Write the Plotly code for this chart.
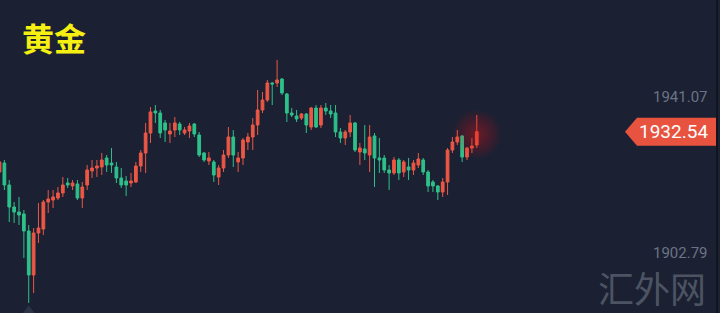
import plotly.graph_objects as go

# OHLC values (99 candles)
open_ = [1922.66, 1924.87, 1919.47, 1914.07, 1912.84, 1912.36, 1908.18, 1897.39, 1907.69, 1908.67,
         1915.30, 1915.79, 1916.28, 1917.51, 1919.96, 1919.23, 1919.72, 1916.28, 1919.47, 1922.91,
         1923.64, 1923.89, 1926.10, 1924.87, 1923.89, 1921.19, 1920.45, 1919.96, 1920.21, 1924.13,
         1927.32, 1932.23, 1937.63, 1937.14, 1934.69, 1931.99, 1932.97, 1934.44, 1932.23, 1932.72,
         1934.44, 1931.74, 1927.32, 1925.36, 1925.12, 1921.43, 1923.64, 1926.83, 1931.25, 1925.12,
         1926.10, 1930.02, 1931.25, 1934.19, 1937.88, 1940.33, 1944.50, 1944.50, 1945.48, 1941.80,
         1937.14, 1936.40, 1935.91, 1936.89, 1933.70, 1938.37, 1934.19, 1938.37, 1937.63, 1937.14,
         1932.48, 1931.01, 1932.48, 1934.69, 1927.57, 1928.31, 1926.83, 1931.50, 1926.10, 1926.10,
         1923.15, 1922.42, 1925.61, 1922.66, 1923.89, 1923.15, 1924.38, 1925.61, 1922.66, 1920.21,
         1919.23, 1917.75, 1920.21, 1928.06, 1930.02, 1931.50, 1926.34, 1928.55, 1929.29]
high = [1926.10, 1925.61, 1920.70, 1915.30, 1916.53, 1913.33, 1909.66, 1908.92, 1915.05, 1915.79,
        1918.24, 1918.24, 1918.98, 1921.43, 1921.19, 1920.70, 1920.70, 1920.21, 1924.38, 1925.61,
        1925.61, 1927.32, 1926.83, 1928.55, 1925.12, 1923.64, 1921.68, 1922.42, 1925.12, 1928.06,
        1934.69, 1938.61, 1939.10, 1937.88, 1935.42, 1934.69, 1936.16, 1934.93, 1933.70, 1934.69,
        1934.69, 1932.48, 1927.57, 1927.57, 1925.61, 1924.38, 1928.06, 1933.70, 1932.97, 1927.57,
        1931.01, 1932.23, 1935.91, 1942.78, 1942.29, 1945.24, 1944.75, 1950.15, 1945.73, 1942.05,
        1938.37, 1937.88, 1937.14, 1937.14, 1938.61, 1939.10, 1939.10, 1939.59, 1939.10, 1939.10,
        1933.46, 1932.97, 1936.65, 1934.93, 1929.78, 1934.19, 1934.19, 1932.23, 1931.01, 1926.83,
        1924.38, 1926.34, 1926.10, 1925.61, 1926.10, 1925.61, 1927.32, 1926.10, 1923.15, 1920.70,
        1919.47, 1921.19, 1928.55, 1931.25, 1932.97, 1931.74, 1928.80, 1931.01, 1936.65]
low = [1921.68, 1918.24, 1910.39, 1910.15, 1909.66, 1901.56, 1890.52, 1892.97, 1905.24, 1907.20,
       1912.60, 1913.83, 1915.79, 1916.53, 1918.74, 1918.24, 1915.79, 1913.83, 1918.24, 1921.19,
       1921.43, 1921.92, 1922.66, 1922.42, 1919.96, 1918.74, 1916.77, 1918.98, 1919.96, 1922.66,
       1922.42, 1929.78, 1934.69, 1931.01, 1930.02, 1929.78, 1931.25, 1931.74, 1931.74, 1931.01,
       1931.25, 1926.34, 1925.12, 1924.38, 1920.21, 1919.47, 1922.66, 1926.10, 1923.89, 1922.66,
       1924.38, 1928.06, 1928.06, 1931.74, 1937.14, 1939.84, 1939.10, 1943.52, 1941.56, 1934.93,
       1936.16, 1934.93, 1935.42, 1932.23, 1932.97, 1933.46, 1933.46, 1936.65, 1935.91, 1931.25,
       1929.78, 1929.29, 1931.25, 1927.57, 1924.38, 1925.61, 1922.66, 1918.98, 1922.42, 1922.42,
       1918.24, 1921.92, 1920.70, 1921.43, 1920.70, 1921.92, 1923.64, 1921.92, 1917.75, 1917.75,
       1915.79, 1916.53, 1917.02, 1927.32, 1929.29, 1925.12, 1925.61, 1927.32, 1928.55]
close = [1925.12, 1919.47, 1914.07, 1912.84, 1912.11, 1908.18, 1897.39, 1907.69, 1908.92, 1915.30,
         1916.04, 1916.53, 1917.51, 1919.47, 1919.47, 1919.96, 1916.28, 1918.98, 1923.15, 1923.64,
         1924.13, 1925.61, 1924.38, 1924.38, 1921.19, 1919.47, 1919.47, 1920.45, 1924.13, 1927.32,
         1932.23, 1937.39, 1937.14, 1932.23, 1932.97, 1932.72, 1934.69, 1932.97, 1932.97, 1933.95,
         1931.99, 1926.83, 1925.61, 1926.10, 1921.92, 1923.64, 1926.83, 1931.25, 1926.83, 1926.10,
         1930.51, 1931.25, 1934.19, 1937.88, 1940.33, 1944.50, 1944.26, 1945.24, 1942.05, 1937.14,
         1936.65, 1935.67, 1936.89, 1934.19, 1938.37, 1933.70, 1938.37, 1937.63, 1936.89, 1932.48,
         1931.01, 1932.48, 1934.69, 1928.06, 1928.55, 1927.32, 1931.25, 1926.10, 1925.61, 1923.15,
         1922.42, 1925.61, 1922.42, 1925.12, 1923.15, 1924.87, 1925.85, 1922.66, 1919.23, 1919.23,
         1917.75, 1920.21, 1928.06, 1930.02, 1931.25, 1926.34, 1928.55, 1929.04, 1932.54]
x_idx = list(range(len(close)))

axis_labels = [1941.07, 1902.79]
last_price = 1932.54
title_text = "黄金"
watermark = "汇外网"

BG = "#1b2132"
UP = "#ec5745"
DOWN = "#2ec08a"

Y_MIN, Y_MAX = 1888.06, 1964.87
H_PX = 313
unit_per_px = (Y_MAX - Y_MIN) / H_PX

fig = go.Figure()

# soft glow behind last candle (stacked translucent discs)
glow_y = (open_[-1] + close[-1]) / 2 + 1.0
for size in range(48, 4, -4):
    fig.add_trace(go.Scatter(
        x=[x_idx[-1]], y=[glow_y],
        mode="markers",
        marker=dict(size=size, color="rgba(255,30,30,0.035)", line=dict(width=0)),
        hoverinfo="skip", showlegend=False))

fig.add_trace(go.Candlestick(
    x=x_idx, open=open_, high=high, low=low, close=close,
    increasing=dict(line=dict(color=UP, width=1), fillcolor=UP),
    decreasing=dict(line=dict(color=DOWN, width=1), fillcolor=DOWN),
    whiskerwidth=0, showlegend=False))

# low marker triangle
lo_i = low.index(min(low))
fig.add_trace(go.Scatter(
    x=[x_idx[lo_i]], y=[low[lo_i] - 8 * unit_per_px],
    mode="markers",
    marker=dict(symbol="triangle-up", size=11, color="#2b3447", line=dict(width=0)),
    hoverinfo="skip", showlegend=False))

annotations = []
for v in axis_labels:
    annotations.append(dict(
        x=0.986, xref="paper", y=v, yref="y", text=f"{v:.2f}",
        showarrow=False, xanchor="right", yanchor="middle",
        font=dict(family="Roboto, Arial", size=15, color="#6b7386")))

# price tag
half = 14 * unit_per_px
x_tip, x_body, x_end = 625 / 720, 637 / 720, 716 / 720
path = (f"M {x_tip},{last_price} L {x_body},{last_price + half} L {x_end},{last_price + half} "
        f"L {x_end},{last_price - half} L {x_body},{last_price - half} Z")
shapes = [
    dict(type="path", xref="paper", yref="y", path=path,
         fillcolor="#e8533f", line=dict(width=0), layer="above"),
    dict(type="line", xref="paper", yref="paper", x0=717 / 720, x1=717 / 720, y0=0, y1=1,
         line=dict(color="#10141c", width=2)),
]
annotations.append(dict(
    x=(637 + 716) / 2 / 720 - 0.004, xref="paper", y=last_price, yref="y",
    text=f"{last_price:.2f}", showarrow=False, xanchor="center", yanchor="middle",
    font=dict(family="Roboto, Arial", size=19, color="#ffffff")))

annotations.append(dict(
    x=20 / 720, xref="paper", y=1 - 37 / 313, yref="paper", text=f"<b>{title_text}</b>",
    showarrow=False, xanchor="left", yanchor="middle",
    font=dict(family="Noto Sans CJK SC", size=32, color="#f5ef12")))

annotations.append(dict(
    x=652 / 720, xref="paper", y=1 - 287 / 313, yref="paper", text=watermark,
    showarrow=False, xanchor="center", yanchor="middle",
    font=dict(family="Noto Sans CJK SC", size=36, color="rgba(120,128,142,0.55)")))

fig.update_layout(
    width=720, height=313,
    margin=dict(l=0, r=0, t=0, b=0),
    paper_bgcolor=BG, plot_bgcolor=BG,
    boxgap=0.2,
    xaxis=dict(range=[0.1, 0.1 + 720 / 4.87], visible=False, rangeslider=dict(visible=False),
               fixedrange=True),
    yaxis=dict(range=[Y_MIN, Y_MAX], visible=False, fixedrange=True),
    shapes=shapes, annotations=annotations,
    showlegend=False,
)

fig.write_html("out.html")
